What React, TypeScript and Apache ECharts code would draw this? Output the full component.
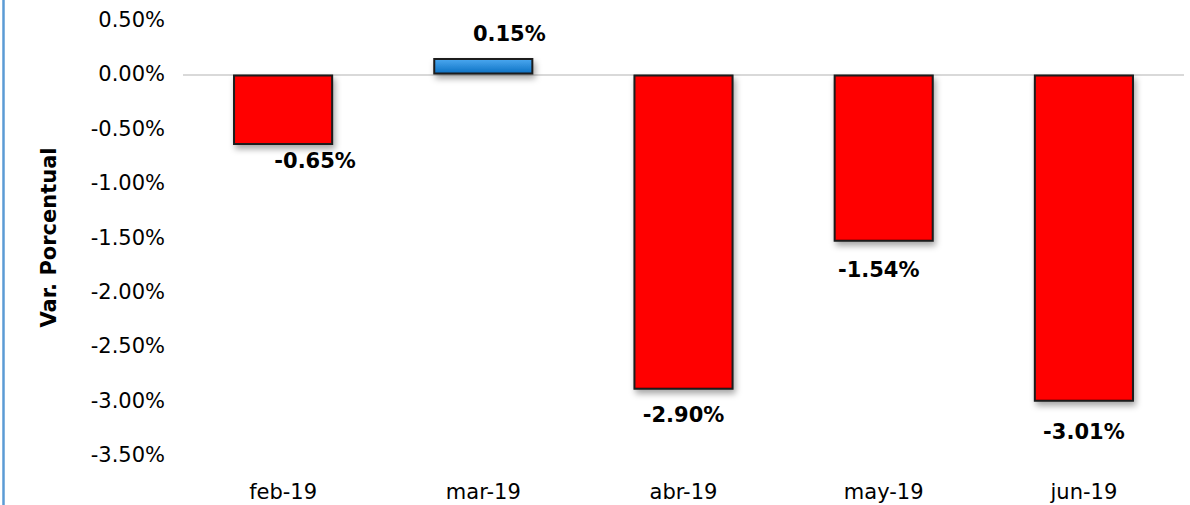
import React, { useEffect, useRef } from "react";
import * as echarts from "echarts";

const categories = ["feb-19", "mar-19", "abr-19", "may-19", "jun-19"];
const values = [-0.65, 0.15, -2.9, -1.54, -3.01];
const yTicks = { min: -3.5, max: 0.5, interval: 0.5 };
const yAxisTitle = "Var. Porcentual";

// label placement tweaks (x offset, distance) per bar, matching reference
const labelOffsetsX = [32, 26, 0, -5, 0];
const labelDistances = [5, 14, 15, 18, 20];

const FONT = "DejaVu Sans";

export default function App() {
  const ref = useRef<HTMLDivElement>(null);
  useEffect(() => {
    if (!ref.current) return;
    const chart = echarts.init(ref.current, null, { renderer: "svg" });
    const data = values.map((v, i) => ({
      value: v,
      itemStyle:
        v >= 0
          ? {
              color: new echarts.graphic.LinearGradient(0, 0, 0, 1, [
                { offset: 0, color: "#4aa8f0" },
                { offset: 1, color: "#0f72c4" },
              ]),
            }
          : { color: "#ff0000" },
      label: {
        position: v >= 0 ? "top" : "bottom",
        offset: [labelOffsetsX[i], 0],
        distance: labelDistances[i],
      },
    }));
    chart.setOption({
      animation: false,
      backgroundColor: "#ffffff",
      grid: { left: 183, right: 6, top: 20, bottom: 50 },
      graphic: [
        {
          type: "line",
          shape: { x1: 3.5, y1: 0, x2: 3.5, y2: 505 },
          style: { stroke: "#5b9bd5", lineWidth: 2.5 },
        },
      ],
      xAxis: {
        type: "category",
        data: categories,
        position: "bottom",
        axisLine: { show: false, onZero: false },
        axisTick: { show: false },
        axisLabel: { fontFamily: FONT, fontSize: 21, color: "#000", margin: 26 },
      },
      yAxis: {
        type: "value",
        min: yTicks.min,
        max: yTicks.max,
        interval: yTicks.interval,
        splitLine: { show: false },
        axisLine: { show: false },
        axisTick: { show: false },
        axisLabel: {
          fontFamily: FONT,
          fontSize: 21,
          color: "#000",
          margin: 18,
          formatter: (v: number) => v.toFixed(2) + "%",
        },
        name: yAxisTitle,
        nameLocation: "middle",
        nameGap: 124,
        nameRotate: 90,
        nameTextStyle: { fontFamily: FONT, fontSize: 21, fontWeight: "bold", color: "#000" },
      },
      series: [
        {
          type: "bar",
          data,
          barWidth: "50%",
          itemStyle: {
            borderColor: "#1a1a1a",
            borderWidth: 2,
            shadowColor: "rgba(0,0,0,0.35)",
            shadowBlur: 6,
            shadowOffsetX: 2,
            shadowOffsetY: 4,
          },
          label: {
            show: true,
            fontFamily: FONT,
            fontSize: 21,
            fontWeight: "bold",
            color: "#000",
            formatter: (p: any) => p.value.toFixed(2) + "%",
          },
          markLine: {
            silent: true,
            symbol: "none",
            label: { show: false },
            lineStyle: { color: "#d9d9d9", width: 2, type: "solid" },
            data: [{ yAxis: 0 }],
            z: 1,
          },
          z: 2,
        },
      ],
    });
    return () => chart.dispose();
  }, []);
  return (
    <div
      ref={ref}
      style={{ position: "fixed", left: 0, top: 0, width: 1190, height: 505 }}
    />
  );
}
